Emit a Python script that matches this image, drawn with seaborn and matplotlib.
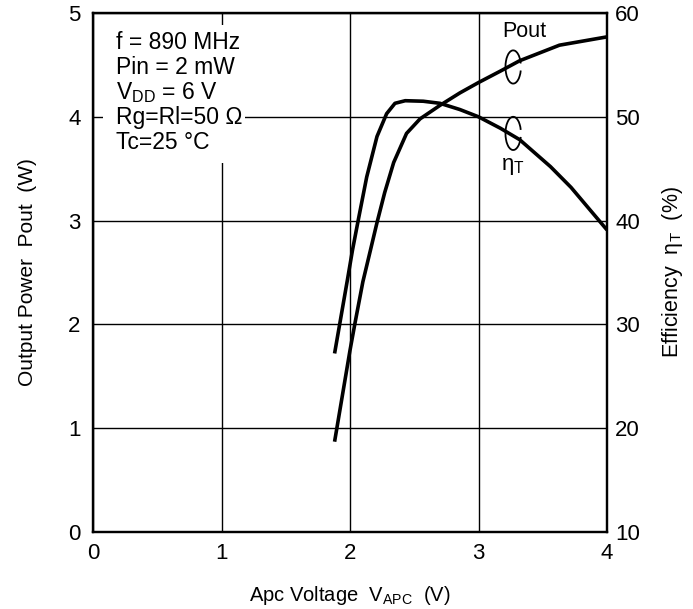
import matplotlib
matplotlib.use("Agg")
import matplotlib.pyplot as plt
import seaborn as sns
import pandas as pd
from matplotlib.patches import Rectangle, Arc

# --- data ---
vapc_pout = [1.88, 2.0, 2.04, 2.10, 2.16, 2.21, 2.27, 2.34, 2.44, 2.545, 2.70, 2.855,
             3.0, 3.17, 3.32, 3.63, 4.0]
pout_w = [0.87, 1.75, 2.02, 2.41, 2.72, 2.98, 3.27, 3.56, 3.84, 3.98, 4.11, 4.23,
          4.33, 4.44, 4.54, 4.69, 4.77]

vapc_eff = [1.88, 1.98, 2.02, 2.065, 2.13, 2.21, 2.285, 2.35, 2.43, 2.57, 2.70, 2.855,
            3.0, 3.17, 3.32, 3.56, 3.72, 3.87, 4.0]
eff_pct = [27.2, 34.3, 37.2, 40.1, 44.2, 48.1, 50.3, 51.3, 51.55, 51.5, 51.3, 50.7,
           50.0, 48.9, 47.8, 45.2, 43.2, 41.0, 39.1]

x_ticks = [0, 1, 2, 3, 4]
pout_ticks = [0, 1, 2, 3, 4, 5]
eff_ticks = [10, 20, 30, 40, 50, 60]

conditions = ["f = 890 MHz", "Pin = 2 mW", r"V$_{\rm DD}$ = 6 V", "Rg=Rl=50 Ω", "Tc=25 °C"]

sns.set_theme(style="white")
plt.rcParams["font.family"] = ["Liberation Sans", "DejaVu Sans"]
plt.rcParams["mathtext.fontset"] = "custom"
plt.rcParams["mathtext.rm"] = "Liberation Sans"
plt.rcParams["mathtext.it"] = "Liberation Sans:italic"

df_p = pd.DataFrame({"vapc": vapc_pout, "pout": pout_w})
df_e = pd.DataFrame({"vapc": vapc_eff, "eff": eff_pct})

fig = plt.figure(figsize=(6.93, 6.09), dpi=100)
ax = fig.add_axes([93 / 693, 1 - 532 / 609, 514 / 693, 519 / 609])
ax2 = ax.twinx()

line_kw = dict(color="black", lw=2.6, zorder=3, solid_joinstyle="round", solid_capstyle="butt")
sns.lineplot(data=df_p, x="vapc", y="pout", ax=ax, **line_kw)
sns.lineplot(data=df_e, x="vapc", y="eff", ax=ax2, **line_kw)

ax.set_xlim(0, 4)
ax.set_ylim(0, 5)
ax2.set_ylim(10, 60)
ax.set_xticks(x_ticks)
ax.set_yticks(pout_ticks)
ax2.set_yticks(eff_ticks)
ax.tick_params(length=0, labelsize=16, colors="black")
ax.tick_params(axis="y", pad=9)
ax.tick_params(axis="x", pad=8)
ax2.tick_params(length=0, labelsize=16, colors="black", pad=6)

ax.grid(True, color="black", lw=1.0)
ax.set_axisbelow(True)
for a in (ax, ax2):
    for s in a.spines.values():
        s.set_color("black")
        s.set_linewidth(1.6)

ax.set_xlabel(r"Apc Voltage  V$_{\rm APC}$  (V)", fontsize=14.5, color="black", labelpad=14)
ax.set_ylabel("Output Power  Pout  (W)", fontsize=15, color="black", labelpad=22)
ax2.set_ylabel("Efficiency  η$_{\\rm T}$  (%)", fontsize=15.5, color="black", labelpad=14)

# white box behind the test conditions
box_x0, box_y0 = (103 - 93) / 514, (532 - 163) / 519
ax.add_patch(Rectangle((box_x0, box_y0), (245 - 103) / 514, (163 - 25) / 519,
                       transform=ax.transAxes, facecolor="white", edgecolor="none", zorder=1.5))
for i, line in enumerate(conditions):
    ax.text((116 - 93) / 514, (532 - (49 + 25 * i)) / 519, line, transform=ax.transAxes,
            fontsize=16.5, va="baseline", ha="left", color="black", zorder=2)

# curve labels with loop marks
ax.text(3.36, 4.82, "Pout", fontsize=15.5, ha="center", va="center", color="black")
ax.text(3.27, 3.52, "η$_{\\rm T}$", fontsize=16, ha="center", va="center", color="black")
for yc in (4.48, 3.84):
    ax.add_patch(Arc((3.27, yc), 0.12, 0.32, theta1=30, theta2=330, color="black", lw=1.3))

fig.savefig("out.png", dpi=100)
